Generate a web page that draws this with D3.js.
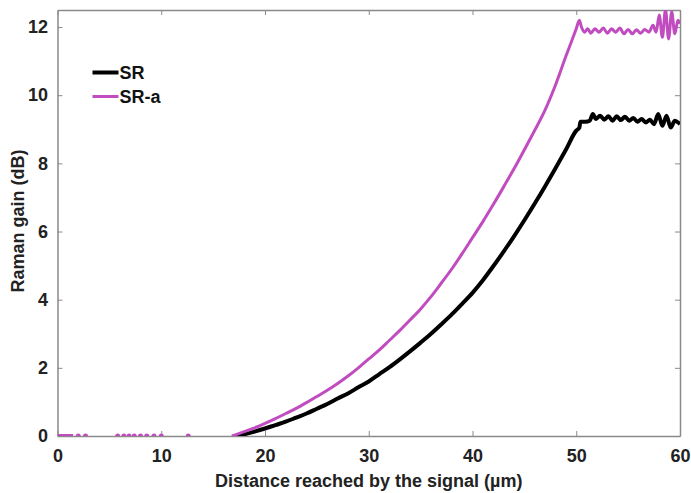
<!DOCTYPE html>
<html>
<head>
<meta charset="utf-8">
<script src="https://cdn.jsdelivr.net/npm/d3@7"></script>
<style>
  body { margin: 0; background: #fff; }
  text { font-family: "Liberation Sans", Arial, sans-serif; font-weight: bold; }
</style>
</head>
<body>
<svg id="chart"></svg>
<script>
// Data
const xTicks = [0, 10, 20, 30, 40, 50, 60];
const yTicks = [0, 2, 4, 6, 8, 10, 12];

// SR-a flat part: short segment near the origin + scattered points on zero
const srAStartX = [0, 0.4, 0.8, 1.2, 1.5];
const srAStartY = [0, 0, 0, 0, 0];
const srADotsX = [2.0, 2.7, 5.8, 6.4, 6.9, 7.4, 8.0, 8.6, 9.3, 10.0, 12.6];

const srAX = [16.8, 17, 18, 19, 20, 21, 22, 23, 24, 25, 26, 27, 28, 29, 30, 31, 32, 33, 34, 35,
  36, 37, 38, 39, 40, 41, 42, 43, 44, 45, 46, 47, 48, 49, 50, 50.3,
  50.5, 50.8, 51.1, 51.4, 51.8, 52.2, 52.6, 53.0, 53.4, 53.8, 54.2, 54.6, 55.0, 55.4, 55.8,
  56.2, 56.6, 57.0, 57.4, 57.7, 58.0, 58.3, 58.6, 58.9, 59.2, 59.5, 59.8, 60];
const srAY = [0, 0.02, 0.13, 0.24, 0.37, 0.51, 0.66, 0.81, 0.98, 1.16, 1.34, 1.54, 1.76, 2.00, 2.26, 2.52, 2.81, 3.10, 3.41, 3.73,
  4.09, 4.49, 4.90, 5.35, 5.82, 6.29, 6.79, 7.31, 7.84, 8.40, 8.97, 9.57, 10.30, 11.14, 11.95, 12.2,
  12.0, 11.85, 11.95, 11.82, 11.95, 11.85, 11.97, 11.82, 11.95, 11.85, 11.97, 11.80, 11.93, 11.80, 11.92,
  11.82, 11.93, 11.85, 12.05, 11.85, 12.35, 11.70, 12.50, 11.65, 12.45, 11.80, 12.20, 12.10];

const srX = [17.3, 18, 19, 20, 21, 22, 23, 24, 25, 26, 27, 28, 29, 30, 31, 32, 33, 34, 35,
  36, 37, 38, 39, 40, 41, 42, 43, 44, 45, 46, 47, 48, 49, 50, 50.3,
  50.4, 50.9, 51.3, 51.6, 51.9, 52.3, 52.7, 53.1, 53.5, 53.9, 54.3, 54.7, 55.1, 55.5, 55.9,
  56.3, 56.7, 57.1, 57.5, 57.9, 58.3, 58.7, 59.1, 59.5, 60];
const srY = [0, 0.05, 0.13, 0.22, 0.32, 0.42, 0.54, 0.66, 0.80, 0.94, 1.10, 1.25, 1.43, 1.60, 1.81, 2.02, 2.25, 2.49, 2.74,
  3.00, 3.28, 3.57, 3.88, 4.20, 4.57, 4.98, 5.41, 5.86, 6.33, 6.82, 7.33, 7.86, 8.40, 8.96, 9.05,
  9.22, 9.22, 9.25, 9.45, 9.30, 9.40, 9.28, 9.38, 9.25, 9.38, 9.27, 9.37, 9.25, 9.33, 9.22,
  9.30, 9.20, 9.28, 9.15, 9.45, 9.10, 9.40, 9.05, 9.25, 9.15];

const seriesNames = ["SR", "SR-a"];
const seriesColors = ["#000000", "#c04cc0"];

// Configuration
const W = 691, H = 493;
const margin = { top: 10, right: 11, bottom: 57, left: 57.5 };
const width = W - margin.left - margin.right;
const height = H - margin.top - margin.bottom;
const axisColor = "#8a8a8a";

const svg = d3.select("#chart")
  .attr("width", W)
  .attr("height", H)
  .append("g")
  .attr("transform", `translate(${margin.left},${margin.top})`);

const x = d3.scaleLinear().domain([0, 60]).range([0, width]);
const y = d3.scaleLinear().domain([0, 12.5]).range([height, 0]);

svg.append("defs").append("clipPath").attr("id", "clip")
  .append("rect").attr("width", width).attr("height", height);

// Axes (ticks inside, mirrored on top/right)
function styleAxis(g) {
  g.select(".domain").attr("stroke", axisColor).attr("stroke-width", 1.5);
  g.selectAll(".tick line").attr("stroke", axisColor);
  g.selectAll(".tick text")
    .attr("fill", "#222")
    .attr("font-size", "18px");
}

svg.append("g")
  .attr("transform", `translate(0,${height})`)
  .call(d3.axisBottom(x).tickValues(xTicks).tickSize(-5).tickPadding(13).tickSizeOuter(0))
  .call(styleAxis);

svg.append("g")
  .call(d3.axisLeft(y).tickValues(yTicks).tickSize(-5).tickPadding(9.5).tickSizeOuter(0))
  .call(styleAxis);

svg.append("g")
  .call(d3.axisTop(x).tickValues(xTicks).tickSize(-5).tickFormat("").tickSizeOuter(0))
  .call(styleAxis);

svg.append("g")
  .attr("transform", `translate(${width},0)`)
  .call(d3.axisRight(y).tickValues(yTicks).tickSize(-5).tickFormat("").tickSizeOuter(0))
  .call(styleAxis);

// Axis labels
svg.append("text")
  .attr("x", width / 2)
  .attr("y", height + 51)
  .attr("text-anchor", "middle")
  .attr("font-size", "18px")
  .attr("fill", "#222")
  .text("Distance reached by the signal (µm)");

svg.append("text")
  .attr("transform", "rotate(-90)")
  .attr("x", -height / 2 + 2)
  .attr("y", -33.5)
  .attr("text-anchor", "middle")
  .attr("font-size", "18px")
  .attr("fill", "#222")
  .text("Raman gain (dB)");

// Lines
const line = d3.line()
  .curve(d3.curveMonotoneX)
  .x(d => x(d[0]))
  .y(d => y(d[1]));

const plot = svg.append("g").attr("clip-path", "url(#clip)");

const srData = d3.zip(srX, srY);
const srAData = d3.zip(srAX, srAY);

plot.append("path")
  .datum(srData)
  .attr("fill", "none")
  .attr("stroke", seriesColors[0])
  .attr("stroke-width", 4)
  .attr("stroke-linejoin", "round")
  .attr("d", line);

plot.append("path")
  .datum(srAData)
  .attr("fill", "none")
  .attr("stroke", seriesColors[1])
  .attr("stroke-width", 3)
  .attr("stroke-linejoin", "round")
  .attr("d", line);

plot.append("path")
  .datum(d3.zip(srAStartX, srAStartY))
  .attr("fill", "none")
  .attr("stroke", seriesColors[1])
  .attr("stroke-width", 4)
  .attr("d", line);

plot.selectAll(".dot")
  .data(srADotsX)
  .enter().append("circle")
  .attr("class", "dot")
  .attr("cx", d => x(d))
  .attr("cy", y(0))
  .attr("r", 2.5)
  .attr("fill", seriesColors[1]);

// Legend
const legend = svg.append("g").attr("transform", "translate(35,62.5)");
seriesNames.forEach((name, i) => {
  const g = legend.append("g").attr("transform", `translate(0,${i * 24})`);
  g.append("line")
    .attr("x1", 0).attr("x2", 26)
    .attr("stroke", seriesColors[i])
    .attr("stroke-width", i === 0 ? 4 : 3);
  g.append("text")
    .attr("x", 27)
    .attr("y", 6.5)
    .attr("font-size", "18px")
    .attr("fill", "#111")
    .text(name);
});
</script>
</body>
</html>
